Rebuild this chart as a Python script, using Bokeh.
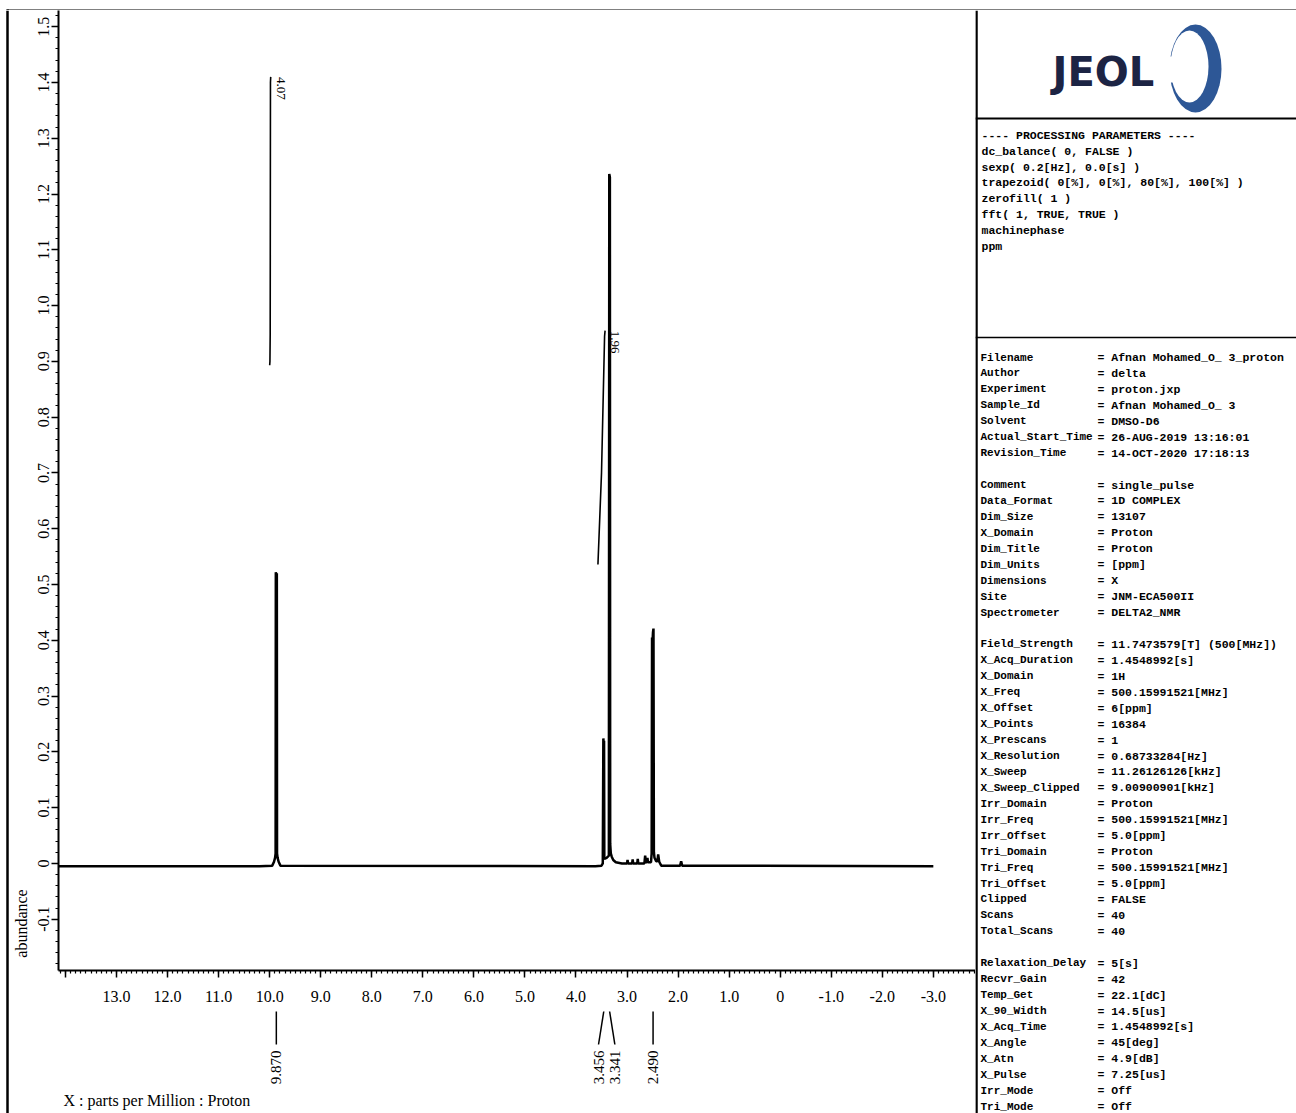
import math
from bokeh.plotting import figure
from bokeh.layouts import row, column
from bokeh.models import Range1d, FixedTicker, ColumnDataSource
from bokeh.core.properties import value
from bokeh.embed import file_html
from bokeh.resources import INLINE

# ---------------------------------------------------------------- data
# 1H NMR trace (ppm, abundance), DMSO-d6
spectrum_ppm = [
    14.13, 10.20, 9.95, 9.915, 9.895, 9.884, 9.880, 9.870, 9.860, 9.856, 9.845, 9.825, 9.79,
    3.62, 3.50, 3.475, 3.464, 3.458, 3.450, 3.445, 3.40, 3.356, 3.348, 3.336, 3.330, 3.318,
    3.30, 3.27, 3.22, 3.10, 3.00, 2.99, 2.98, 2.90, 2.89, 2.88, 2.80, 2.79, 2.78, 2.66, 2.645,
    2.63, 2.61, 2.60, 2.59, 2.53, 2.518, 2.510, 2.500, 2.492, 2.482, 2.474, 2.462, 2.43, 2.405,
    2.39, 2.37, 2.33, 1.96, 1.94, 1.92, -3.0,
]
spectrum_abundance = [
    -0.005, -0.005, -0.004, 0.003, 0.010, 0.018, 0.522, 0.516, 0.520, 0.018, 0.010, 0.003, -0.004,
    -0.005, -0.004, 0.000, 0.224, 0.215, 0.220, 0.008, 0.010, 0.014, 1.236, 1.230, 0.035, 0.018,
    0.012, 0.006, 0.002, 0.000, 0.000, 0.006, 0.000, 0.000, 0.007, 0.000, 0.000, 0.008, 0.000, 0.000, 0.014,
    0.002, 0.002, 0.010, 0.002, 0.002, 0.018, 0.405, 0.398, 0.414, 0.421, 0.020, 0.010, 0.004, 0.004,
    0.016, 0.003, -0.004, -0.004, 0.004, -0.004, -0.005,
]

# picked peaks
peak_ppm = [9.870, 3.456, 3.341, 2.490]

# integrals: value and trace (ppm, level)
integral_values = [4.07, 1.96]
integral_ppm = [[10.00, 9.995, 9.99, 9.985, 9.98], [3.57, 3.50, 3.44, 3.43]]
integral_levels = [[0.893, 0.900, 0.950, 1.400, 1.410], [0.536, 0.700, 0.945, 0.955]]

# axis ticks
x_ticks = [14.0, 13.0, 12.0, 11.0, 10.0, 9.0, 8.0, 7.0, 6.0, 5.0, 4.0, 3.0, 2.0, 1.0, 0.0,
           -1.0, -2.0, -3.0]
x_tick_labels = ["", "13.0", "12.0", "11.0", "10.0", "9.0", "8.0", "7.0", "6.0", "5.0", "4.0",
                 "3.0", "2.0", "1.0", "0", "-1.0", "-2.0", "-3.0"]
y_ticks = [-0.1, 0.0, 0.1, 0.2, 0.3, 0.4, 0.5, 0.6, 0.7, 0.8, 0.9, 1.0, 1.1, 1.2, 1.3, 1.4, 1.5]
y_tick_labels = ["-0.1", "0", "0.1", "0.2", "0.3", "0.4", "0.5", "0.6", "0.7", "0.8", "0.9",
                 "1.0", "1.1", "1.2", "1.3", "1.4", "1.5"]

# processing / acquisition header
processing_lines = [
    "---- PROCESSING PARAMETERS ----",
    "dc_balance( 0, FALSE )",
    "sexp( 0.2[Hz], 0.0[s] )",
    "trapezoid( 0[%], 0[%], 80[%], 100[%] )",
    "zerofill( 1 )",
    "fft( 1, TRUE, TRUE )",
    "machinephase",
    "ppm",
]
param_names = [
    "Filename", "Author", "Experiment", "Sample_Id", "Solvent", "Actual_Start_Time",
    "Revision_Time", "",
    "Comment", "Data_Format", "Dim_Size", "X_Domain", "Dim_Title", "Dim_Units", "Dimensions",
    "Site", "Spectrometer", "",
    "Field_Strength", "X_Acq_Duration", "X_Domain", "X_Freq", "X_Offset", "X_Points",
    "X_Prescans", "X_Resolution", "X_Sweep", "X_Sweep_Clipped", "Irr_Domain", "Irr_Freq",
    "Irr_Offset", "Tri_Domain", "Tri_Freq", "Tri_Offset", "Clipped", "Scans", "Total_Scans", "",
    "Relaxation_Delay", "Recvr_Gain", "Temp_Get", "X_90_Width", "X_Acq_Time", "X_Angle",
    "X_Atn", "X_Pulse", "Irr_Mode", "Tri_Mode",
]
param_values = [
    "Afnan Mohamed_O_ 3_proton", "delta", "proton.jxp", "Afnan  Mohamed_O_ 3", "DMSO-D6",
    "26-AUG-2019 13:16:01", "14-OCT-2020 17:18:13", "",
    "single_pulse", "1D COMPLEX", "13107", "Proton", "Proton", "[ppm]", "X",
    "JNM-ECA500II", "DELTA2_NMR", "",
    "11.7473579[T]  (500[MHz])", "1.4548992[s]", "1H", "500.15991521[MHz]", "6[ppm]", "16384",
    "1", "0.68733284[Hz]", "11.26126126[kHz]", "9.00900901[kHz]", "Proton", "500.15991521[MHz]",
    "5.0[ppm]", "Proton", "500.15991521[MHz]", "5.0[ppm]", "FALSE", "40", "40", "",
    "5[s]", "42", "22.1[dC]", "14.5[us]", "1.4548992[s]", "45[deg]",
    "4.9[dB]", "7.25[us]", "Off", "Off",
]

# ---------------------------------------------------------------- page geometry (px)
W, H = 1296, 1113
TOP = 10            # height of the strip carrying the top rule
LEFT = 30           # strip carrying the outer left rule and the y label
PANEL_X = 975       # start of the parameter panel
SPEC_W = PANEL_X - LEFT
SPEC_H = 1000
BELOW_H = H - TOP - SPEC_H
AXIS_GAP = 28       # frame starts at x = 58

X_LEFT, X_RIGHT = 14.137, -3.826
Y_BOTTOM, Y_TOP = -0.192, 1.529
PX_PER_PPM = (PANEL_X - LEFT - AXIS_GAP) / (X_LEFT - X_RIGHT)

SERIF = value("Liberation Serif")
MONO = value("Liberation Mono")


def blank(width, height, x_range, y_range, **kw):
    f = figure(width=width, height=height, x_range=x_range, y_range=y_range,
               x_axis_type=None, y_axis_type=None, output_backend="svg",
               toolbar_location=None, **kw)
    f.outline_line_color = None
    f.background_fill_color = "white"
    f.border_fill_color = "white"
    return f


# ---------------------------------------------------------------- top rule
top = blank(W, TOP, Range1d(0, W), Range1d(TOP, 0), min_border=0)
top.quad(left=[6, 6], right=[W, 8.5], top=[7.5, 7.5], bottom=[9.8, TOP], color="black")

# ---------------------------------------------------------------- left rule + y title
left = blank(LEFT, H - TOP, Range1d(0, LEFT), Range1d(H, TOP), min_border=0)
left.segment(x0=[7], y0=[TOP], x1=[7], y1=[H], line_color="black", line_width=2.5)
left.text(x=[21], y=[923], text=["abundance"], angle=math.pi / 2, text_font=SERIF,
          text_font_size="16px", text_align="center", text_baseline="middle",
          text_color="black")

# ---------------------------------------------------------------- spectrum
spec = figure(width=SPEC_W, height=SPEC_H,
              x_range=Range1d(X_LEFT, X_RIGHT), y_range=Range1d(Y_BOTTOM, Y_TOP),
              output_backend="svg", toolbar_location=None,
              min_border_left=AXIS_GAP, min_border_right=0, min_border_top=0,
              min_border_bottom=SPEC_H - 960)
spec.grid.visible = False
spec.outline_line_color = None
spec.background_fill_color = "white"

xa = spec.xaxis[0]
xa.ticker = FixedTicker(ticks=x_ticks,
                        minor_ticks=[round(14.1 - 0.1 * i, 1) for i in range(180)])
xa.major_label_overrides = dict(zip(x_ticks, x_tick_labels))
xa.major_label_standoff = 13

ya = spec.yaxis[0]
ya.ticker = FixedTicker(ticks=y_ticks,
                        minor_ticks=[round(-0.18 + 0.02 * i, 2) for i in range(86)])
ya.major_label_overrides = dict(zip(y_ticks, y_tick_labels))
ya.major_label_orientation = "vertical"
ya.major_label_standoff = 2

for ax in (xa, ya):
    ax.axis_line_width = 2
    ax.axis_line_color = "black"
    ax.major_tick_in = 0
    ax.major_tick_out = 7
    ax.minor_tick_in = 0
    ax.minor_tick_out = 3
    ax.major_tick_line_width = 1.5
    ax.minor_tick_line_width = 1.2
    ax.major_tick_line_color = "black"
    ax.minor_tick_line_color = "black"
    ax.major_label_text_font = "Liberation Serif"
    ax.major_label_text_font_size = "16px"
    ax.major_label_text_color = "black"

spec.line(x="ppm", y="abundance",
          source=ColumnDataSource(dict(ppm=spectrum_ppm, abundance=spectrum_abundance)),
          line_color="black", line_width=2.5)

# integral traces with their values
spec.multi_line(xs=integral_ppm, ys=integral_levels, line_color="black", line_width=1.6)
spec.text(x=[xs[-1] - 0.2 for xs in integral_ppm], y=[ys[-1] for ys in integral_levels],
          text=[f"{v:.2f}" for v in integral_values], angle=-math.pi / 2,
          text_font=SERIF, text_font_size="13px", text_align="left",
          text_baseline="middle", text_color="black")

# ---------------------------------------------------------------- peak markers under the axis
below = blank(SPEC_W, BELOW_H, spec.x_range, Range1d(H, TOP + SPEC_H),
              min_border_left=AXIS_GAP, min_border_right=0, min_border_top=0,
              min_border_bottom=0)

# spread labels of peaks that sit too close together
MIN_SEP = 0.32
label_ppm = []
group = [peak_ppm[0]]
for p in peak_ppm[1:]:
    if group[-1] - p < MIN_SEP:
        group.append(p)
    else:
        c = sum(group) / len(group)
        label_ppm += [c + ((len(group) - 1) / 2 - i) * MIN_SEP for i in range(len(group))]
        group = [p]
c = sum(group) / len(group)
label_ppm += [c + ((len(group) - 1) / 2 - i) * MIN_SEP for i in range(len(group))]

below.segment(x0=peak_ppm, y0=[1011] * len(peak_ppm), x1=label_ppm,
              y1=[1044] * len(peak_ppm), line_color="black", line_width=1.5)
below.text(x=label_ppm, y=[1050] * len(peak_ppm), text=[f"{v:.3f}" for v in peak_ppm],
           angle=math.pi / 2, text_font=SERIF, text_font_size="15px",
           text_align="right", text_baseline="middle", text_color="black")
below.text(x=[X_LEFT - 5 / PX_PER_PPM], y=[1100], text=["X : parts per Million : Proton"],
           text_font=SERIF, text_font_size="16px", text_align="left",
           text_baseline="middle", text_color="black")

# ---------------------------------------------------------------- parameter panel
panel = blank(W - PANEL_X, H - TOP, Range1d(PANEL_X, W), Range1d(H, TOP), min_border=0)
panel.segment(x0=[PANEL_X + 1, PANEL_X, PANEL_X], y0=[TOP, 118, 337],
              x1=[PANEL_X + 1, W, W], y1=[H, 118, 337],
              line_color="black", line_width=[2.5, 2, 1.5])

# JEOL mark: open ring, thin at the upper left, heavy at the lower right
panel.ellipse(x=[1195], y=[68], width=[52], height=[88], fill_color="#2d5796",
              line_color=None)
panel.ellipse(x=[1189], y=[66], width=[38], height=[72], fill_color="white",
              line_color=None)
panel.quad(left=[1166], right=[1175], top=[56], bottom=[82], fill_color="white",
           line_color=None)
panel.text(x=[1052], y=[71], text=["JEOL"], text_font=value("DejaVu Sans"),
           text_font_style="bold", text_font_size="40px", text_color="#1c2444",
           text_align="left", text_baseline="middle")

mono = dict(text_font=MONO, text_font_style="bold", text_color="black",
            text_align="left", text_baseline="middle")
panel.text(x=[981] * len(processing_lines),
           y=[135 + 15.8 * i for i in range(len(processing_lines))],
           text=processing_lines, text_font_size="11.5px", **mono)

rows_y = [357 + 15.94 * i for i in range(len(param_names))]
filled = [i for i, n in enumerate(param_names) if n]
panel.text(x=[980] * len(filled), y=[rows_y[i] for i in filled],
           text=[param_names[i] for i in filled], text_font_size="11px", **mono)
panel.text(x=[1097] * len(filled), y=[rows_y[i] for i in filled],
           text=["= " + param_values[i] for i in filled], text_font_size="11.5px", **mono)

layout = column(top, row(left, column(spec, below), panel))

open("out.html", "w").write(file_html(layout, INLINE))
